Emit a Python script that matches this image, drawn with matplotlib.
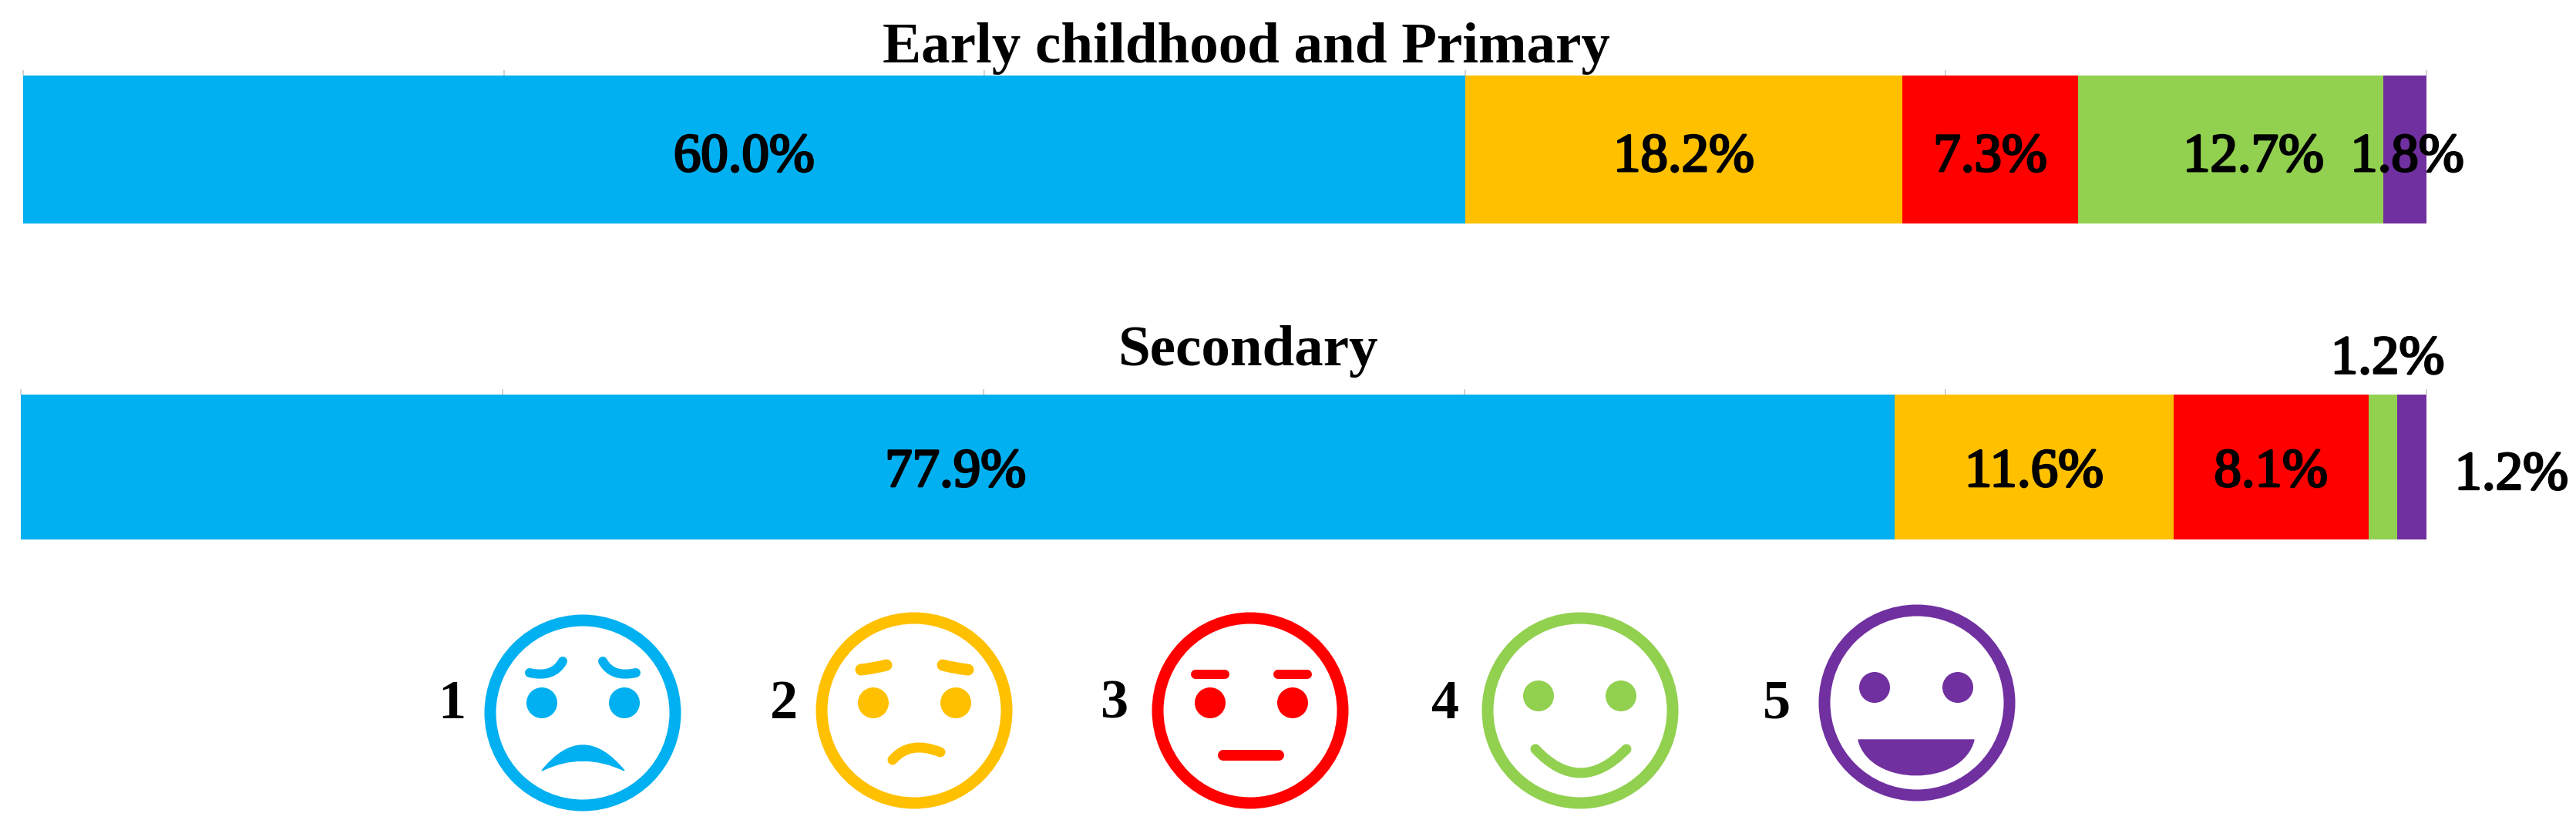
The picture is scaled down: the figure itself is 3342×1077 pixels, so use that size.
import matplotlib
matplotlib.use("Agg")
import matplotlib.pyplot as plt
from matplotlib.patches import Ellipse, PathPatch, Circle
from matplotlib.path import Path
import matplotlib.patheffects as pe

W, H = 3342, 1077
levels = ["1", "2", "3", "4", "5"]
colors = ["#00B0F0", "#FFC000", "#FF0000", "#92D050", "#7030A0"]
groups = ["Early childhood and Primary", "Secondary"]
early_primary = [60.0, 18.2, 7.3, 12.7, 1.8]
secondary = [77.9, 11.6, 8.1, 1.2, 1.2]
ticks = [0, 20, 40, 60, 80, 100]

plt.rcParams["font.family"] = ["Liberation Serif", "DejaVu Serif"]
fig = plt.figure(figsize=(W / 100, H / 100), dpi=100, facecolor="white")


def axes_px(x0, x1, y0, y1, **kw):
    return fig.add_axes([x0 / W, 1 - y1 / H, (x1 - x0) / W, (y1 - y0) / H], **kw)


def panel(box, values, title, title_xy, offsets):
    ax = axes_px(*box)
    ax.set_xlim(0, 100)
    ax.set_ylim(-0.5, 0.5)
    for s in ax.spines.values():
        s.set_visible(False)
    ax.set_yticks([])
    ax.set_xticks(ticks)
    ax.xaxis.tick_top()
    ax.tick_params(axis="x", length=5, width=1.2, color="#C8C8C8", labeltop=False, pad=0)
    left = 0
    for v, c, off in zip(values, colors, offsets):
        ax.barh(0, v, left=left, height=1, color=c, edgecolor="none", zorder=3)
        ax.text(left + v / 2 + off[0], off[1], f"{v:.1f}%", ha="center", va="center",
                fontsize=51, color="black", zorder=5,
                path_effects=[pe.withStroke(linewidth=2.0, foreground="black")])
        left += v
    ax.text(title_xy[0], title_xy[1], title, ha="center", va="center", fontsize=54,
            fontweight="bold", color="black")
    return ax


panel((30, 3148, 98, 290), early_primary, groups[0], (50.9, 0.68),
      [(0, -0.055), (0, -0.055), (0, -0.055), (0.95, -0.055), (0.1, -0.055)])
panel((27.5, 3147.5, 512, 700), secondary, groups[1], (51.0, 0.80),
      [(-0.1, -0.04), (0, -0.04), (0, -0.04), (0.2, 0.74), (4.15, -0.06)])

ov = fig.add_axes([0, 0, 1, 1], facecolor="none")
ov.set_xlim(0, W)
ov.set_ylim(H, 0)
ov.axis("off")
LW = 15 * 72 / 100


def ring(cx, cy, c, r=120):
    ov.add_patch(Ellipse((cx, cy), 2 * r, 2 * r, fill=False, ec=c, lw=LW))


def eyes(x1, x2, y, c):
    for x in (x1, x2):
        ov.add_patch(Circle((x, y), 20, fc=c, ec="none"))


def quad(p0, p1, p2, c, lw):
    ov.add_patch(PathPatch(Path([p0, p1, p2], [Path.MOVETO, Path.CURVE3, Path.CURVE3]),
                           fill=False, ec=c, lw=lw * 72 / 100, capstyle="round"))


def crescent(a, ctrl_out, b, ctrl_in, c):
    ov.add_patch(PathPatch(Path([a, ctrl_out, b, ctrl_in, a, a],
                                [Path.MOVETO, Path.CURVE3, Path.CURVE3, Path.CURVE3, Path.CURVE3, Path.CLOSEPOLY]),
                           fc=c, ec=c, lw=1))


# face 1
c = colors[0]
ring(756, 925, c); eyes(703, 810, 912, c)
quad((687, 873), (718, 880), (730, 858), c, 12)
quad((825, 873), (794, 880), (782, 858), c, 12)
crescent((703, 1000), (756, 934), (810, 1000), (756, 974), c)
# face 2
c = colors[1]
ring(1186, 922, c); eyes(1133, 1240, 912, c)
quad((1117, 869), (1135, 867), (1150, 863), c, 15)
quad((1223, 863), (1238, 867), (1256, 869), c, 15)
quad((1158, 986), (1180, 960), (1220, 976), c, 13)
# face 3
c = colors[2]
ring(1622, 922, c); eyes(1570, 1677, 912, c)
quad((1551, 875), (1570, 875), (1589, 875), c, 12)
quad((1658, 875), (1677, 875), (1696, 875), c, 12)
quad((1587, 980), (1623, 980), (1659, 980), c, 14)
# face 4
c = colors[3]
ring(2050, 922, c); eyes(1996, 2103, 903, c)
quad((1992, 972), (2050, 1034), (2110, 972), c, 13)
# face 5
c = colors[4]
ring(2487, 912, c); eyes(2432, 2540, 892, c)
ov.add_patch(PathPatch(Path([(2411, 960), (2426, 1021), (2546, 1021), (2561, 960), (2411, 960)],
                            [Path.MOVETO, Path.CURVE4, Path.CURVE4, Path.CURVE4, Path.CLOSEPOLY]),
                       fc=c, ec=c, lw=1))

for lab, x in zip(levels, [586, 1017, 1445, 1875, 2305]):
    ov.text(x, 914, lab, ha="center", va="center", fontsize=52, fontweight="bold", color="black")

fig.savefig("out.png", dpi=100)
